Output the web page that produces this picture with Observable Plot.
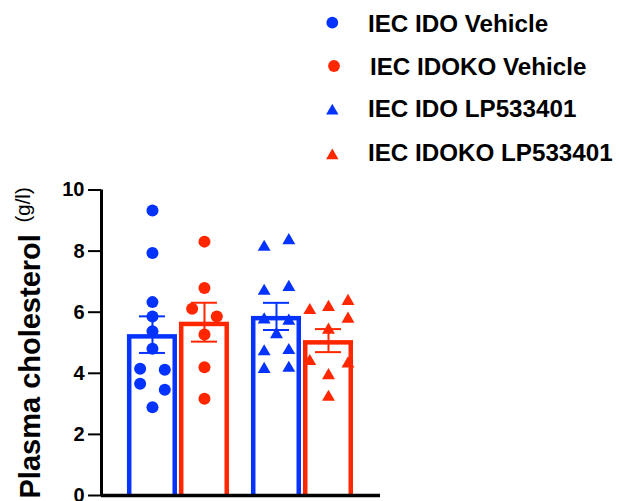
<!DOCTYPE html>
<html>
<head>
<meta charset="utf-8">
<script src="https://cdn.jsdelivr.net/npm/d3@7"></script>
<script src="https://cdn.jsdelivr.net/npm/@observablehq/plot@0.6"></script>
<style>
  html, body { margin: 0; padding: 0; background: #ffffff; }
  body { font-family: "Liberation Sans", Arial, sans-serif; width: 619px; height: 501px; overflow: hidden; }
  svg { display: block; }
</style>
</head>
<body>
<div id="legend"></div>
<div id="chart"></div>
<script>
// ---------- data ----------
const groups = ["IEC IDO Vehicle", "IEC IDOKO Vehicle", "IEC IDO LP533401", "IEC IDOKO LP533401"];
const idoVehicle    = [9.33, 7.94, 6.33, 5.86, 5.38, 4.80, 4.15, 4.12, 3.66, 3.46, 2.89];
const idokoVehicle  = [8.31, 6.79, 6.11, 5.86, 5.27, 4.20, 3.17];
const idoLP533401   = [8.13, 8.35, 6.69, 6.82, 5.75, 5.71, 5.27, 4.71, 4.75, 4.13, 4.17];
const idokoLP533401 = [6.06, 6.16, 6.36, 5.78, 5.42, 4.39, 4.31, 3.93, 3.22];
const yTicks = [0, 2, 4, 6, 8, 10];
const yLabelMain = "Plasma cholesterol ";
const yLabelUnit = "(g/l)";

// ---------- layout / style (not data) ----------
const colors  = ["#0433FF", "#FF2600", "#0433FF", "#FF2600"];
const symbols = ["circle", "circle", "triangle", "triangle"];
const slots   = [1, 2, 3.385, 4.385];             // horizontal slot of each bar
const jitters = [                                  // horizontal scatter of points (x units)
  [0, 0, 0, 0, 0, 0, -0.237, 0.237, -0.237, 0.237, 0],
  [0, 0, -0.237, 0.237, 0, 0, 0],
  [-0.237, 0.237, -0.237, 0.237, -0.237, 0.237, 0, -0.237, 0.237, -0.237, 0.237],
  [-0.36, 0, 0.375, 0.375, 0, -0.36, 0.375, 0, 0]
];
const xDomain = [0.02, 5.385];
const halfBar = 0.481;
const capHalf = 0.25;

const values = [idoVehicle, idokoVehicle, idoLP533401, idokoLP533401];
const points = values.flatMap((vals, g) =>
  vals.map((v, i) => ({group: groups[g], g, value: v, x: slots[g] + jitters[g][i]})));
const stats = values.map((vals, g) => {
  const m = d3.mean(vals);
  const sem = d3.deviation(vals) / Math.sqrt(vals.length);
  return {group: groups[g], g, x: slots[g], mean: m, lo: m - sem, hi: m + sem};
});

// ---------- legend (above the plot) ----------
const legendRows = [
  {tx: 368, ty: 31.7, mx: 332.3, my: 22.7},
  {tx: 370, ty: 75.0, mx: 334.0, my: 66.0},
  {tx: 368, ty: 117.3, mx: 332.3, my: 111.0},
  {tx: 368, ty: 160.7, mx: 332.3, my: 155.6}
];
const leg = d3.select("#legend").append("svg")
  .attr("width", 619).attr("height", 175);
groups.forEach((name, g) => {
  const r = legendRows[g];
  const sym = symbols[g] === "circle" ? d3.symbolCircle : d3.symbolTriangle;
  const size = symbols[g] === "circle" ? Math.PI * 5.9 * 5.9 : Math.PI * 4.6 * 4.6;
  leg.append("path")
    .attr("d", d3.symbol(sym, size)())
    .attr("transform", `translate(${r.mx},${r.my})`)
    .attr("fill", colors[g]);
  leg.append("text")
    .attr("x", r.tx).attr("y", r.ty)
    .style("font-family", "'Liberation Sans', Arial, sans-serif")
    .style("font-weight", "bold").style("font-size", "24.2px")
    .style("fill", "#000")
    .text(name);
});

// ---------- plot ----------
const plot = Plot.plot({
  width: 619,
  height: 326,
  marginLeft: 101,
  marginRight: 239,
  marginTop: 14.5,
  marginBottom: 6,
  x: {domain: xDomain, axis: null},
  y: {domain: [0, 10], axis: null},
  color: {domain: groups, range: colors},
  symbol: {domain: groups, range: symbols},
  style: {fontFamily: "Liberation Sans, Arial, sans-serif", color: "black", background: "white", overflow: "visible"},
  marks: [
    Plot.rect(stats, {
      x1: d => d.x - halfBar, x2: d => d.x + halfBar, y1: 0, y2: "mean",
      fill: "white", stroke: "group", strokeWidth: 4.5,
      inset: 2.25, insetBottom: -6, clip: true
    }),
    Plot.dot(points.filter(d => symbols[d.g] === "circle"), {
      x: "x", y: "value", fill: "group", symbol: "group", r: 6, stroke: "none"
    }),
    Plot.dot(points.filter(d => symbols[d.g] === "triangle"), {
      x: "x", y: "value", fill: "group", symbol: "group", r: 4.8, stroke: "none"
    }),
    Plot.ruleX(stats, {x: "x", y1: "lo", y2: "hi", stroke: "group", strokeWidth: 2}),
    Plot.ruleY(stats, {y: "hi", x1: d => d.x - capHalf, x2: d => d.x + capHalf, stroke: "group", strokeWidth: 2}),
    Plot.ruleY(stats, {y: "lo", x1: d => d.x - capHalf, x2: d => d.x + capHalf, stroke: "group", strokeWidth: 2}),
    Plot.axisY({
      ticks: yTicks, tickSize: 13, tickPadding: 4, tickFormat: d => String(d),
      fontSize: 20, fontWeight: "bold", strokeWidth: 2, label: null, stroke: "black", fill: "black"
    }),
    Plot.ruleX([xDomain[0]], {y1: yTicks[0], y2: yTicks[yTicks.length - 1], stroke: "black", strokeWidth: 3}),
    Plot.ruleY([0], {stroke: "black", strokeWidth: 3.4})
  ]
});
document.getElementById("chart").appendChild(plot);

// y-axis title with mixed weights
const yt = d3.select(plot).append("text")
  .attr("transform", "translate(39.5,323.5) rotate(-90)")
  .attr("text-anchor", "start")
  .style("fill", "black")
  .style("font-family", "'Liberation Sans', Arial, sans-serif");
yt.append("tspan").style("font-weight", "bold").style("font-size", "29px").text(yLabelMain);
yt.append("tspan").attr("dx", 3.5).attr("dy", -10)
  .style("font-weight", "normal").style("font-size", "20.5px").text(yLabelUnit);
</script>
</body>
</html>
